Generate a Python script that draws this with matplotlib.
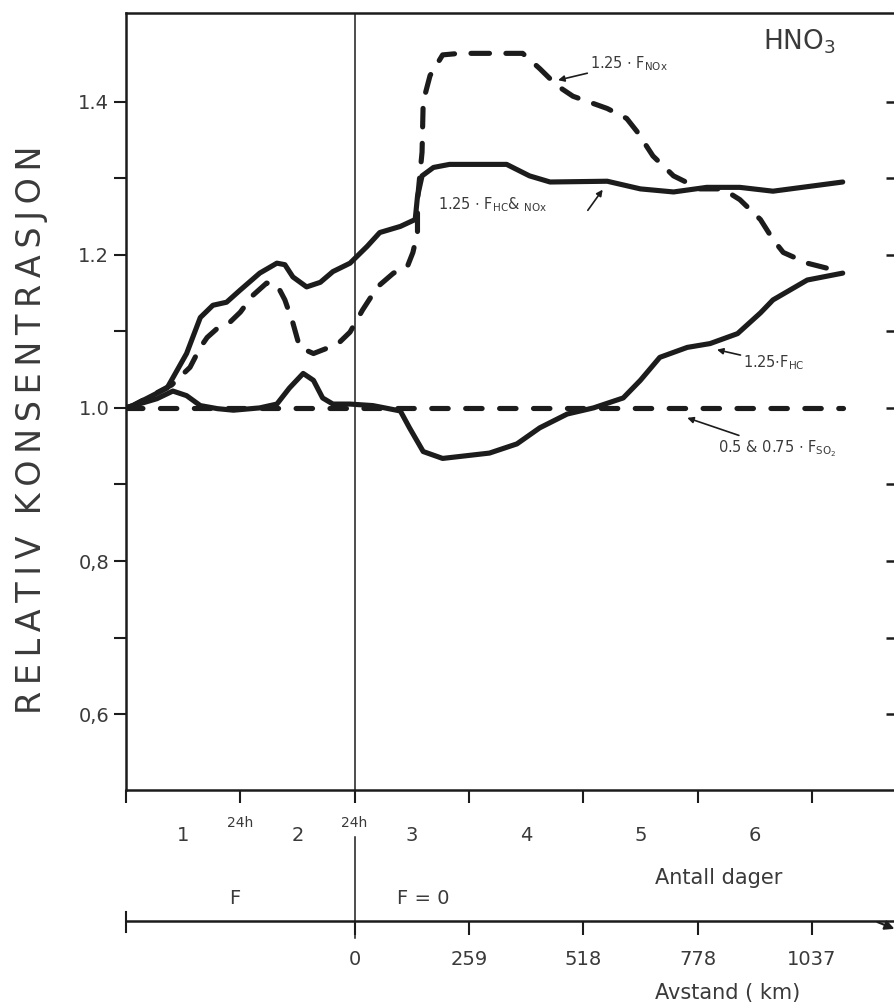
import matplotlib
matplotlib.use("Agg")
import matplotlib.pyplot as plt

# curves (x in days, y = relative concentration)
days_hcnox = [0, 0.06, 0.36, 0.53, 0.65, 0.76, 0.88, 1.0, 1.17, 1.32, 1.39, 1.46, 1.58, 1.70,
              1.81, 1.96, 2.11, 2.22, 2.40, 2.53, 2.55, 2.59, 2.69, 2.83, 3.33, 3.53, 3.71,
              4.21, 4.50, 4.79, 5.08, 5.37, 5.66, 6.27]
val_hcnox = [1.0, 1.003, 1.026, 1.071, 1.118, 1.134, 1.138, 1.154, 1.176, 1.189, 1.187, 1.171,
             1.158, 1.164, 1.178, 1.189, 1.211, 1.229, 1.237, 1.246, 1.276, 1.303, 1.314, 1.318,
             1.318, 1.303, 1.295, 1.296, 1.286, 1.282, 1.288, 1.288, 1.283, 1.295]

days_nox = [0, 0.06, 0.40, 0.56, 0.65, 0.71, 0.80, 0.91, 1.0, 1.11, 1.23, 1.32, 1.39, 1.46,
            1.52, 1.64, 1.76, 1.87, 1.96, 2.07, 2.20, 2.34, 2.46, 2.51, 2.55, 2.55, 2.59, 2.60,
            2.66, 2.77, 2.92, 3.47, 3.62, 3.77, 3.91, 4.21, 4.38, 4.47, 4.61, 4.79, 5.02, 5.22,
            5.37, 5.55, 5.66, 5.75, 5.96, 6.25]
val_nox = [1.0, 1.003, 1.03, 1.053, 1.079, 1.092, 1.104, 1.112, 1.125, 1.147, 1.163, 1.161,
           1.141, 1.111, 1.079, 1.071, 1.078, 1.086, 1.099, 1.128, 1.158, 1.176, 1.184, 1.203,
           1.229, 1.272, 1.334, 1.400, 1.434, 1.461, 1.463, 1.463, 1.443, 1.421, 1.407, 1.391,
           1.378, 1.361, 1.329, 1.303, 1.286, 1.286, 1.272, 1.246, 1.220, 1.203, 1.189, 1.178]

days_hc = [0, 0.27, 0.41, 0.53, 0.65, 0.80, 0.94, 1.17, 1.32, 1.43, 1.55, 1.64, 1.72, 1.81,
           1.96, 2.16, 2.40, 2.48, 2.60, 2.77, 3.18, 3.42, 3.62, 3.86, 4.09, 4.35, 4.50, 4.67,
           4.91, 5.11, 5.35, 5.55, 5.66, 5.96, 6.27]
val_hc = [1.0, 1.012, 1.022, 1.016, 1.003, 0.999, 0.997, 1.0, 1.005, 1.026, 1.045, 1.036, 1.013,
          1.005, 1.005, 1.003, 0.996, 0.974, 0.943, 0.934, 0.941, 0.953, 0.974, 0.992, 1.0,
          1.013, 1.036, 1.066, 1.079, 1.084, 1.097, 1.124, 1.141, 1.167, 1.176]

days_so2 = [0, 6.27]
val_so2 = [1.0, 1.0]

ytick_vals = [0.6, 0.8, 1.0, 1.2, 1.4]
ytick_labels = ['0,6', '0,8', '1.0', '1.2', '1.4']
day_labels = ['1', '2', '3', '4', '5', '6']
km_ticks = [0, 259, 518, 778, 1037]

ink = '#1c1c1c'
txt = '#3a3a3a'

fig = plt.figure(figsize=(8.94, 10.08), dpi=100)
ax = fig.add_axes([126/894, 1 - 790/1008, (897 - 126)/894, 777/1008])
ax.set_xlim(0, 6.745)
ax.set_ylim(0.501, 1.5157)

lw = 3.7
ax.plot(days_hcnox, val_hcnox, color=ink, lw=lw, solid_capstyle='round', solid_joinstyle='round')
ax.plot(days_hc, val_hc, color=ink, lw=lw, solid_capstyle='round', solid_joinstyle='round')
ax.plot(days_nox, val_nox, color=ink, lw=lw, dashes=(3.6, 3.2),
        dash_capstyle='round', dash_joinstyle='round')
ax.plot(days_so2, val_so2, color=ink, lw=lw, dashes=(3.2, 3.4),
        dash_capstyle='round', dash_joinstyle='round')

# vertical divider at end of emission period
ax.axvline(2, color=ink, lw=1.1)
xt = ax.get_xaxis_transform()
ax.plot([2, 2], [-0.0605, -0.19], color=ink, lw=1.1, transform=xt, clip_on=False)

# spines
for s in ['left', 'top', 'bottom']:
    ax.spines[s].set_linewidth(1.8)
    ax.spines[s].set_color(ink)
ax.spines['right'].set_visible(False)

# y axis ticks
ax.set_yticks(ytick_vals, labels=ytick_labels)
ax.set_yticks([0.7, 0.9, 1.1, 1.3], minor=True)
ax.tick_params(axis='y', which='both', direction='out', length=9, width=1.5,
               color=ink, labelsize=14, labelcolor=txt, pad=3)
ry = ax.secondary_yaxis('right')
ry.set_yticks([0.6, 0.7, 0.8, 0.9, 1.0, 1.1, 1.2, 1.3, 1.4], labels=[])
ry.tick_params(direction='in', length=8, width=1.8, color=ink)
ry.spines['right'].set_visible(False)

# x axis: day ticks and centred day numbers
ax.set_xticks(range(0, 7), labels=[''] * 7)
ax.set_xticks([0.5, 1.5, 2.5, 3.5, 4.5, 5.5], labels=day_labels, minor=True)
ax.tick_params(axis='x', which='major', direction='out', length=9, width=1.5, color=ink)
ax.tick_params(axis='x', which='minor', length=0, labelsize=14, labelcolor=txt, pad=26)
ax.text(1, -0.042, '24h', transform=xt, ha='center', va='center', fontsize=10, color=txt)
ax.text(2, -0.042, '24h', transform=xt, ha='center', va='center', fontsize=10, color=txt)
ax.text(4.63, -0.113, 'Antall dager', transform=xt, ha='left', va='center', fontsize=15, color=txt)
ax.text(0.95, -0.139, 'F', transform=xt, ha='center', va='center', fontsize=14, color=txt)
ax.text(2.6, -0.139, 'F = 0', transform=xt, ha='center', va='center', fontsize=14, color=txt)

# distance axis
sec = ax.secondary_xaxis(-0.1686, functions=(lambda d: (d - 2) * 259.25,
                                              lambda k: k / 259.25 + 2))
sec.set_xticks(km_ticks)
sec.tick_params(direction='out', length=10, width=1.5, color=ink, labelsize=14,
                labelcolor=txt, pad=11)
sec.spines['bottom'].set_linewidth(1.8)
sec.spines['bottom'].set_color(ink)
ax.plot([0, 0], [-0.157, -0.183], color=ink, lw=1.5, transform=xt, clip_on=False)
ax.annotate('', xy=(6.745, -0.18), xytext=(6.55, -0.1686), xycoords=xt, textcoords=xt,
            arrowprops=dict(arrowstyle='-|>', color=ink, lw=1.5, mutation_scale=14))
ax.text(4.63, -0.261, 'Avstand ( km)', transform=xt, ha='left', va='center', fontsize=15, color=txt)

# labels (thin spaces give the wide lettering of the original)
ylab = '\u2009'.join('RELATIV') + '  ' + '\u2009'.join('KONSENTRASJON')
fig.text(32/894, 1 - 430/1008, ylab, rotation=90, ha='center', va='center',
         fontsize=24, color=txt)
ax.text(5.57, 1.478, r'HNO$_3$', ha='left', va='center', fontsize=19, color=txt)

ann = dict(ha='left', va='center', fontsize=10.5, color=txt)
arr = dict(arrowstyle='-|>', color=ink, lw=1.2, mutation_scale=9, shrinkA=0, shrinkB=0)
ax.annotate(r'1.25 $\cdot$ F$_{\rm NOx}$', xy=(3.78, 1.428), xytext=(4.06, 1.450),
            arrowprops=arr, **ann)
ax.annotate(r'1.25 $\cdot$ F$_{\rm HC}$& $_{\rm NOx}$', xy=(4.17, 1.285), xytext=(2.73, 1.266),
            **ann)
ax.annotate('', xy=(4.17, 1.285), xytext=(4.04, 1.258), arrowprops=arr)
ax.annotate(r'1.25$\cdot$F$_{\rm HC}$', xy=(5.17, 1.076), xytext=(5.40, 1.059),
            arrowprops=arr, **ann)
ax.annotate(r'0.5 & 0.75 $\cdot$ F$_{\rm SO_2}$', xy=(4.91, 0.987), xytext=(5.18, 0.947),
            arrowprops=arr, **ann)

fig.savefig('out.png', dpi=100)
